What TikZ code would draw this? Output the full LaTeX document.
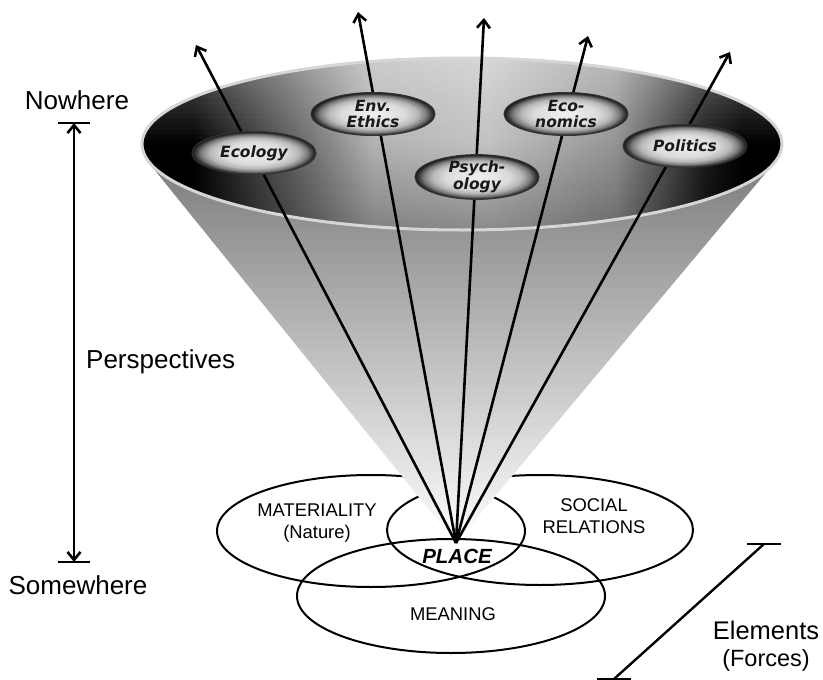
\documentclass[tikz,border=0pt]{standalone}
\usepackage{fontspec}
\setmainfont{Liberation Sans}
\newfontfamily\pillfont{DejaVu Sans}
\usetikzlibrary{arrows.meta,shapes.geometric}

\pgfdeclarehorizontalshading{rimshade}{100bp}{color(0bp)=(black); color(29bp)=(black); color(35bp)=(black!70); color(43bp)=(black!30); color(52bp)=(black!24); color(62bp)=(black!42); color(69bp)=(black!90); color(72bp)=(black); color(100bp)=(black)}
\pgfdeclareradialshading{pillshade}{\pgfpoint{0bp}{0bp}}{color(0bp)=(black!6); color(13bp)=(black!14); color(18bp)=(black!28); color(21.5bp)=(black!52); color(24bp)=(black!82); color(25.5bp)=(black!95); color(50bp)=(black)}

\begin{document}
\begin{tikzpicture}[x=1pt,y=-1pt,
  pill/.style={ellipse, minimum width=124pt, minimum height=43pt, inner sep=0pt, shade, shading=pillshade, draw=black!80, line width=1pt, font=\pillfont\bfseries\itshape\fontsize{15.5}{16.5}\selectfont, align=center, text=black!90},
  ray/.style={line width=2.6pt, -{Straight Barb[length=8pt,width=13pt]}},
  elem/.style={draw, ellipse, line width=2pt, inner sep=0pt},
  lbl/.style={font=\fontsize{18.4}{21.7}\selectfont, align=center, inner sep=0pt},
  big/.style={font=\fontsize{26}{29}\selectfont, inner sep=0pt},
  tick/.style={line width=2.2pt}]

\useasboundingbox (0,0) rectangle (823,680);

% element ellipses
\node[elem, minimum width=308pt, minimum height=112pt] (mat) at (371,531) {};
\node[elem, minimum width=306pt, minimum height=110pt] (soc) at (540,530) {};
\node[elem, minimum width=308pt, minimum height=114pt] (mean) at (451,596) {};

% cone, built from thin horizontal slices (lighter towards the apex)
\coordinate (apex) at (456,543);
\coordinate (tl) at (149,163);
\coordinate (tr) at (774,163);
\foreach \i in {0,...,63}{
  \pgfmathsetmacro{\t}{\i/64}
  \pgfmathsetmacro{\ya}{163+\t*380}
  \pgfmathsetmacro{\yb}{min(\ya+5.9375+0.7,543)}
  \pgfmathsetmacro{\fa}{(\ya-163)/380}
  \pgfmathsetmacro{\fb}{(\yb-163)/380}
  \pgfmathsetmacro{\v}{26*(1-\t)}
  \pgfmathsetmacro{\w}{min(100,50*(1-\t))}
  \shade[left color=black!\w, middle color=black!\v, right color=black!\w]
    ({149+\fa*307},\ya) -- ({774-\fa*318},\ya) --
    ({774-\fb*318},\yb) -- ({149+\fb*307},\yb) -- cycle;
}

% bowl
\node[ellipse, minimum width=640pt, minimum height=172pt, inner sep=0pt, shade, shading=rimshade] (bowl) at (462,144) {};
\begin{scope}
  \clip (bowl.center) ellipse [x radius=320pt, y radius=86pt];
  \foreach \j in {0,...,33}{
    \pgfmathsetmacro{\ya}{58+\j*172/34}
    \pgfmathsetmacro{\yc}{\ya+172/34}
    \pgfmathsetmacro{\s}{(\j+0.5)/34}
    \pgfmathsetmacro{\ow}{max(0,0.34*(1-2*\s))}
    \pgfmathsetmacro{\ob}{max(0,0.28*(2*\s-1))}
    \fill[white, fill opacity=\ow] (140,\ya) rectangle (785,\yc);
    \fill[black, fill opacity=\ob] (140,\ya) rectangle (785,\yc);
  }
\end{scope}
\draw[black!16, line width=3pt] (bowl.center) ellipse [x radius=320pt, y radius=86pt];

% rays
\coordinate (tEco) at (196,45);
\coordinate (tEth) at (358,12);
\coordinate (tPsy) at (484,18);
\coordinate (tEcn) at (588,36);
\coordinate (tPol) at (730,52);
\draw[ray] (apex) -- (tEco);
\draw[ray] (apex) -- (tEth);
\draw[ray] (apex) -- (tPsy);
\draw[ray] (apex) -- (tEcn);
\draw[ray] (apex) -- (tPol);

% perspective pills
\node[pill] (ecology) at (254,153) {Ecology};
\node[pill] (ethics) at (373,114) {Env.\\Ethics};
\node[pill] (psych) at (477,177) {Psych-\\ology};
\node[pill] (econ) at (566,114) {Eco-\\nomics};
\node[pill] (politics) at (685,146) {Politics};

% element labels
\node[lbl] (matl) at (317,523) {MATERIALITY\\(Nature)};
\node[lbl] (socl) at (594,516) {SOCIAL\\RELATIONS};
\node[lbl] (meanl) at (453,614) {MEANING};
\node[font=\bfseries\itshape\fontsize{20.5}{24}\selectfont, inner sep=0pt] (place) at (457,556) {PLACE};

% perspectives axis
\coordinate (nw) at (74,123);
\coordinate (sw) at (74,562);
\draw[line width=2.6pt, {Straight Barb[length=8pt,width=13pt]}-{Straight Barb[length=8pt,width=13pt]}] (nw) -- (sw);
\draw[tick] ([xshift=-16pt]nw) -- ([xshift=16pt]nw);
\draw[tick] ([xshift=-16pt]sw) -- ([xshift=16pt]sw);
\node[big] (nowhere) at (77,100) {Nowhere};
\node[big] (somewhere) at (78,585) {Somewhere};
\node[big, anchor=west] (persp) at (86,362) {Perspectives};

% elements axis
\coordinate (et) at (764,544);
\coordinate (eb) at (614,679);
\draw[line width=2.4pt] (et) -- (eb);
\draw[tick] ([xshift=-17pt]et) -- ([xshift=17pt]et);
\draw[tick] ([xshift=-17pt]eb) -- ([xshift=17pt]eb);
\node[font=\fontsize{25.5}{28}\selectfont, inner sep=0pt] (elements) at (766,630) {Elements};
\node[font=\fontsize{23.5}{26}\selectfont, inner sep=0pt] (forces) at (766,660) {(Forces)};
\end{tikzpicture}
\end{document}
